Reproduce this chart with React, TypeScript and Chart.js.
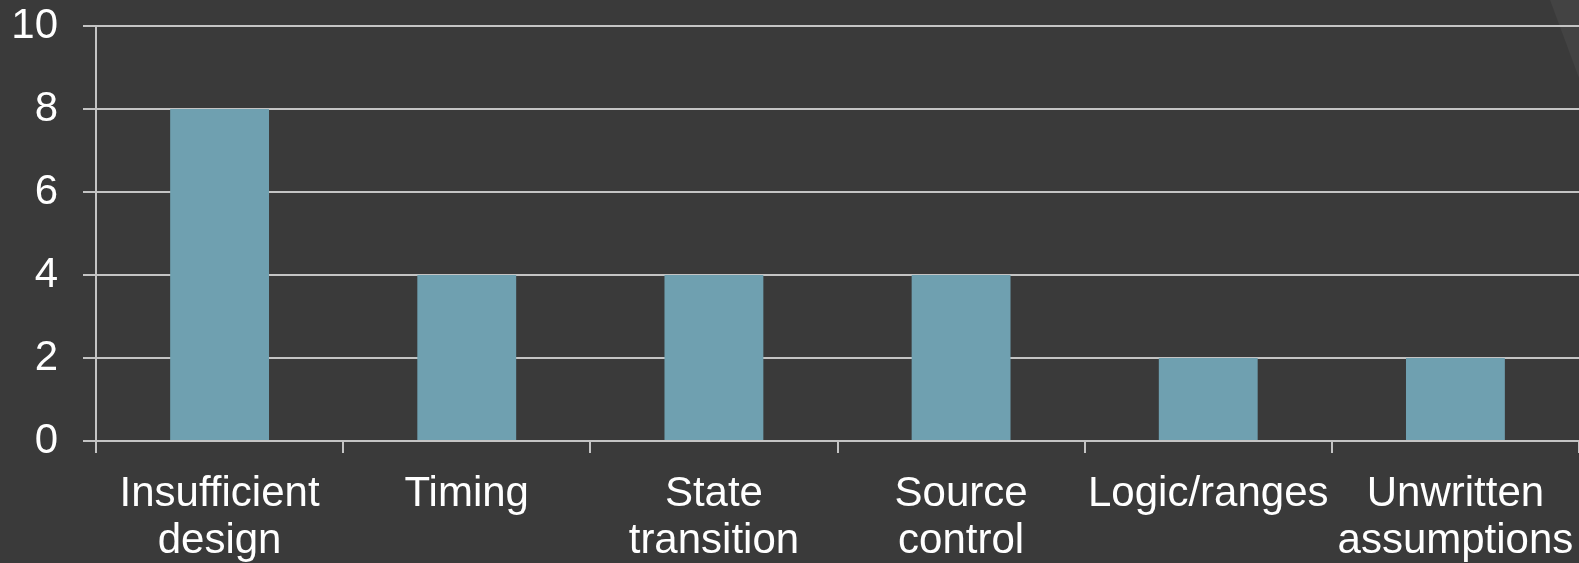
import React, { useEffect, useRef } from "react";
import { Chart, registerables } from "chart.js";

Chart.register(...registerables);

const categories: string[][] = [
  ["Insufficient", "design"],
  ["Timing"],
  ["State", "transition"],
  ["Source", "control"],
  ["Logic/ranges"],
  ["Unwritten", "assumptions"],
];
const counts: number[] = [8, 4, 4, 4, 2, 2];
const yTicks: number[] = [0, 2, 4, 6, 8, 10];

const BG = "#3a3a3a";
const BAR = "#6fa0b0";
const GRID = "#c4c4c4";
const FONT = "'Liberation Sans', Arial, sans-serif";

const decoration = {
  id: "decoration",
  beforeDraw(chart: any) {
    const ctx = chart.ctx;
    ctx.save();
    ctx.fillStyle = BG;
    ctx.fillRect(0, 0, chart.width, chart.height);
    ctx.beginPath();
    ctx.moveTo(1550, 0);
    ctx.lineTo(chart.width, 0);
    ctx.lineTo(chart.width, 78);
    ctx.closePath();
    ctx.fillStyle = "#434343";
    ctx.fill();
    ctx.restore();
  },
};

export default function App() {
  const ref = useRef<HTMLCanvasElement>(null);
  useEffect(() => {
    document.body.style.margin = "0";
    document.body.style.background = BG;
    const chart = new Chart(ref.current!, {
      type: "bar",
      data: {
        labels: categories,
        datasets: [
          {
            data: counts,
            backgroundColor: BAR,
            borderWidth: 0,
            barPercentage: 0.4,
            categoryPercentage: 1,
          },
        ],
      },
      options: {
        animation: false,
        responsive: false,
        devicePixelRatio: 1,
        layout: { padding: { top: 26, right: 0, left: 0, bottom: 0 } },
        plugins: { legend: { display: false }, tooltip: { enabled: false } },
        scales: {
          x: {
            grid: {
              display: true,
              drawOnChartArea: false,
              drawTicks: true,
              tickLength: 12,
              color: GRID,
              lineWidth: 2,
              offset: true,
            },
            border: { display: true, color: GRID, width: 2 },
            ticks: {
              color: "#ffffff",
              font: { family: FONT, size: 42, lineHeight: 1.12 },
              maxRotation: 0,
              minRotation: 0,
              autoSkip: false,
              padding: 18,
            },
            afterFit(scale: any) {
              scale.height = 122;
              scale.paddingLeft = 0;
              scale.paddingRight = 0;
            },
          },
          y: {
            min: 0,
            max: 10,
            afterBuildTicks(scale: any) {
              scale.ticks = yTicks.map((v) => ({ value: v }));
            },
            grid: {
              color: GRID,
              lineWidth: 2,
              tickLength: 13,
              drawTicks: true,
            },
            border: { display: true, color: GRID, width: 2 },
            ticks: {
              color: "#ffffff",
              font: { family: FONT, size: 42 },
              padding: 25,
            },
            afterFit(scale: any) {
              scale.width = 96;
              scale.paddingTop = 0;
              scale.paddingBottom = 0;
            },
          },
        },
      },
      plugins: [decoration],
    });
    return () => chart.destroy();
  }, []);
  return (
    <div style={{ width: 1579, height: 563 }}>
      <canvas ref={ref} width={1579} height={563} style={{ display: "block" }} />
    </div>
  );
}
